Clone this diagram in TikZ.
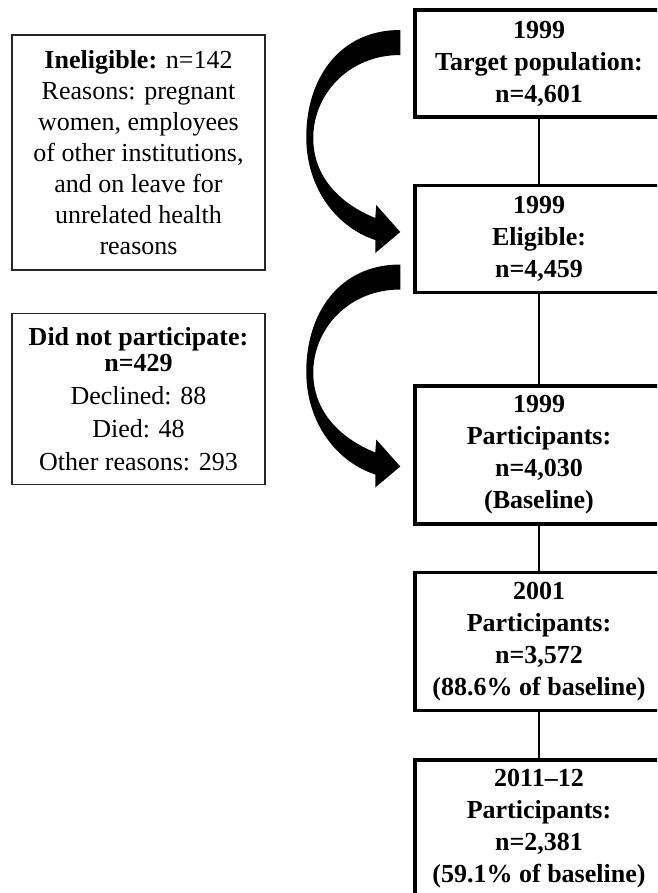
\documentclass[tikz,border=0pt]{standalone}
\usepackage{fontspec}
\setmainfont{Liberation Serif}
\usetikzlibrary{positioning}

\begin{document}
\begin{tikzpicture}[x=1pt,y=-1pt,
		mainbox/.style={draw,line width=3.5pt,minimum width=248pt,align=center,inner sep=2pt,
			font=\fontsize{26}{32}\selectfont\bfseries},
		sidebox/.style={draw=black!85,line width=1.2pt,minimum width=253pt,align=center,inner sep=2pt,
			font=\fontsize{26}{31}\selectfont},
		link/.style={line width=1.3pt},
		bigarrow/.pic={
			\fill (0,0) .. controls (-62,0) and (-94,50) .. (-94,107)
				.. controls (-94,160) and (-62,198) .. (-25,210)
				-- (-25,223) -- (0,202) -- (-24,175) -- (-25,188)
				.. controls (-57,175) and (-86,150) .. (-87,110)
				.. controls (-88,65) and (-52,25) .. (0,25) -- cycle;
		}]
			\useasboundingbox (0,0) rectangle (657,893);
			\clip (0,0) rectangle (657,893);
			% main column
			\node[mainbox, minimum height=107pt] (tp) at (539,63.5)		{1999\\Target population:\\n=4,601};
			\node[mainbox, minimum height=107pt] (elig) [below=65pt of tp]	{1999\\Eligible:\\n=4,459};
			\node[mainbox, minimum height=138pt] (part) [below=90pt of elig]	{1999\\Participants:\\n=4,030\\(Baseline)};
			\node[mainbox, minimum height=138pt] (p01) [below=45pt of part]	{2001\\Participants:\\n=3,572\\(88.6\% of baseline)};
			\node[mainbox, minimum height=138pt] (p11) [below=46pt of p01]	{2011--12\\Participants:\\n=2,381\\(59.1\% of baseline)};
			% side boxes
			\node[sidebox, minimum height=235pt] (inel) at (138.5,152.5)
			{\textbf{Ineligible:} n=142\\Reasons: pregnant\\women, employees\\of other institutions,\\and on leave for\\unrelated health\\reasons};
			\node[sidebox, minimum height=171pt, font=\fontsize{26}{33}\selectfont] (dnp) [below=42pt of inel]
			{\textbf{Did not participate:}\\[-7pt]\textbf{n=429}\\Declined: 88\\Died: 48\\Other reasons: 293};
			\path[link]
				(tp) edge (elig)
				(elig) edge (part)
				(part) edge (p01)
				(p01) edge (p11);
			\pic at ([shift={(-13,-33.5)}]tp.west) {bigarrow};
			\pic at ([shift={(-13,25.5)}]elig.west) {bigarrow};
		\end{tikzpicture}
\end{document}
